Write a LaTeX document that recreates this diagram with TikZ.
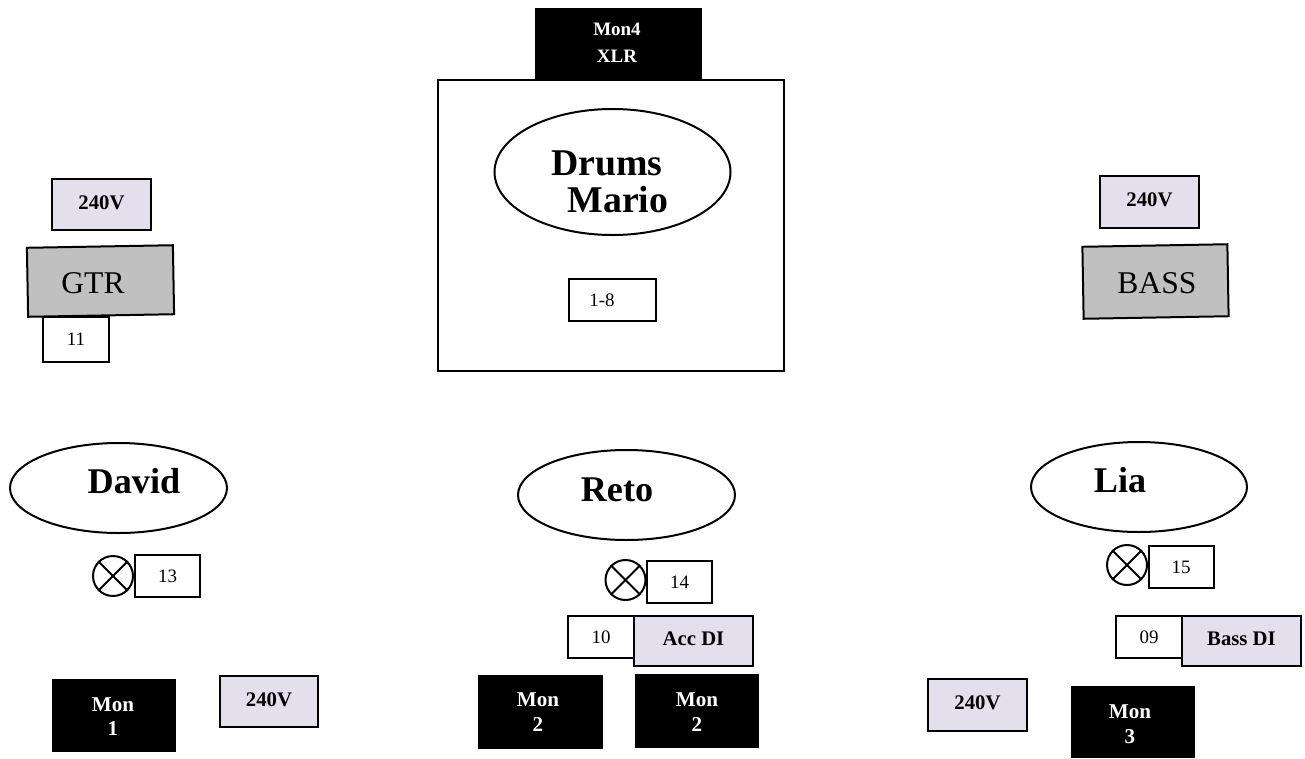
\documentclass[tikz,border=0pt]{standalone}
\usepackage{fontspec}
\setmainfont{Liberation Serif}
\usepackage{tikz}
\tikzset{
  sized/.style 2 args={minimum width=#1*0.02cm,minimum height=#2*0.02cm,inner sep=0pt},
  wbox/.style 2 args={draw,line width=0.04cm,fill=white,sized={#1}{#2},font=\fontsize{10.8}{13}\selectfont},
  power/.style 2 args={draw,line width=0.04cm,fill=lilac,sized={#1}{#2},text depth=0.09cm,font=\fontsize{11.8}{13}\selectfont\bfseries},
  amp/.style 2 args={draw,line width=0.04cm,fill=ampgray,sized={#1}{#2},rotate=1},
  mon/.style 2 args={fill=black,sized={#1}{#2}},
  oval/.style 2 args={draw,line width=0.04cm,ellipse,sized={#1}{#2}},
  montext/.style={text=white,align=center,font=\fontsize{12}{14}\selectfont\bfseries},
  ampname/.style={font=\fontsize{18}{20}\selectfont},
  player/.style={font=\fontsize{20.6}{24}\selectfont\bfseries},
  lamp/.style={draw,line width=0.04cm,circle,fill=white,sized={40}{40}},
}
\usetikzlibrary{shapes.geometric}
\definecolor{lilac}{HTML}{E4DFEC}
\definecolor{ampgray}{HTML}{C0C0C0}
\begin{document}
\begin{tikzpicture}[x=0.02cm,y=-0.02cm]
  \useasboundingbox (0,0) rectangle (1305,758);
  % drum riser
  \node[mon={167}{72}] (mon4) at (618.5,44) {};
  \node[montext,font=\fontsize{10.8}{15.3}\selectfont\bfseries] (mon4text) at (617,43) {Mon4\\XLR};
  \node[draw,line width=0.04cm,sized={346}{291}] (riser) at (611,225.5) {};
  \node[oval={236}{126}] (drums) at (612.5,172) {};
  \node[player,font=\fontsize{21.5}{21.5}\selectfont\bfseries] (drumsname) at (607,163) {Drums};
  \node[player,font=\fontsize{21.5}{21.5}\selectfont\bfseries] (marioname) at (618,200) {Mario};
  \node[wbox={87}{42}] (ch18) at (612.5,300) {};
  \node[font=\fontsize{10.8}{13}\selectfont] (ch18text) at (602,300) {1-8};
  % backline
  \node[power={99}{51}] (powergtr) at (101.5,204.5) {240V};
  \node[amp={146}{69}] (gtr) at (100.5,281) {};
  \node[ampname] (gtrtext) at (93,283) {GTR};
  \node[wbox={66}{45}] (ch11) at (76,339.5) {11};
  \node[power={99}{52}] (powerbass) at (1149.5,202) {240V};
  \node[amp={145}{72}] (bass) at (1155.5,281.5) {};
  \node[ampname] (basstext) at (1157,283) {BASS};
  % players
  \node[oval={217}{90}] (david) at (118.5,488) {};
  \node[player] (davidname) at (134,481) {David};
  \node[oval={217}{90}] (reto) at (626.5,495) {};
  \node[player] (retoname) at (617,490) {Reto};
  \node[oval={216}{90}] (lia) at (1139,487) {};
  \node[player] (lianame) at (1120,480) {Lia};
  % vocal mics
  \foreach \who/\lx/\ly/\bx/\by/\chan in {a/113/576/167.5/576/13,b/625.5/580/679.5/582/14,c/1127/565/1181/567/15} {
    \node[lamp] (lamp\who) at (\lx,\ly) {};
    \draw[line width=0.04cm] (lamp\who.north west)--(lamp\who.south east);
    \draw[line width=0.04cm] (lamp\who.north east)--(lamp\who.south west);
    \node[wbox={65}{42}] (mic\who) at (\bx,\by) {\chan};
  }
  % DI boxes
  \node[wbox={66}{42}] (ch10) at (601,637) {10};
  \node[power={119}{50}] (acc) at (693.5,641) {Acc DI};
  \node[wbox={66}{42}] (ch09) at (1149,637) {09};
  \node[power={119}{50}] (bassdi) at (1241.5,641) {Bass DI};
  % floor
  \node[mon={124}{73}] (mon1) at (114,715.5) {};
  \node[montext] (mon1text) at (113,716.5) {Mon\\1};
  \node[power={98}{51}] (powerdavid) at (269,701.5) {240V};
  \node[mon={125}{74}] (mon2a) at (540.5,712) {};
  \node[montext] (mon2atext) at (538,712) {Mon\\2};
  \node[mon={124}{74}] (mon2b) at (697,711) {};
  \node[montext] (mon2btext) at (697,712) {Mon\\2};
  \node[power={99}{52}] (powerlia) at (977.5,705) {240V};
  \node[mon={124}{72}] (mon3) at (1133,722) {};
  \node[montext] (mon3text) at (1130,724) {Mon\\3};
\end{tikzpicture}
\end{document}
